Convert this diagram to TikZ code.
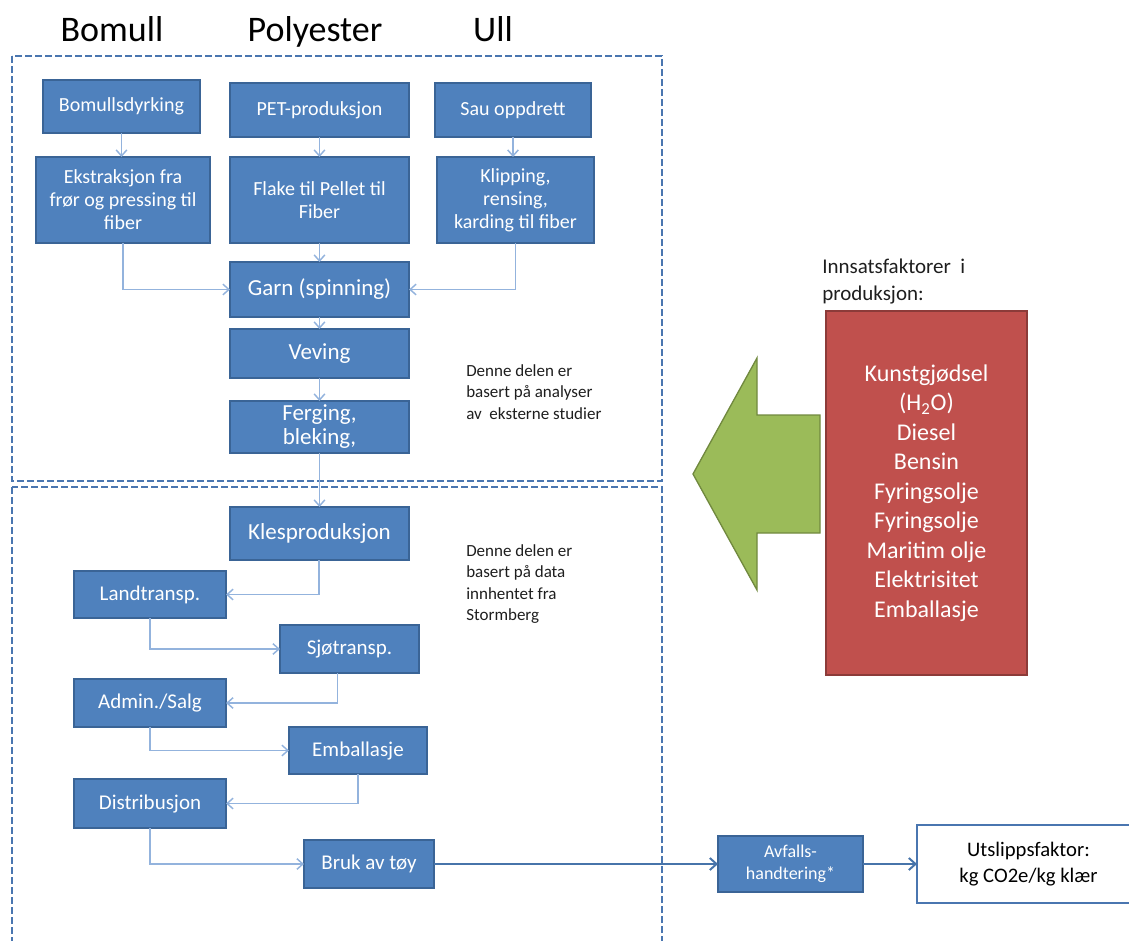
\documentclass[tikz,border=0pt]{standalone}
\usepackage{fontspec}
\setmainfont{Carlito}
\usetikzlibrary{arrows.meta}
\definecolor{boxfill}{HTML}{4F81BD}
\definecolor{boxline}{HTML}{3A6496}
\definecolor{connc}{HTML}{93B3DD}
\definecolor{dashc}{HTML}{4A76B0}
\definecolor{redfill}{HTML}{C0504D}
\definecolor{redline}{HTML}{8C3B39}
\definecolor{greenfill}{HTML}{9BBB59}
\definecolor{greenline}{HTML}{71893F}
\definecolor{txtc}{HTML}{1E1E1E}
\newcommand{\mybox}[7]{%
  \pgfmathsetmacro{\mbcx}{(#2+#4)/2}%
  \pgfmathsetmacro{\mbcy}{(#3+#5)/2}%
  \pgfmathsetmacro{\mbww}{(#4-#2)*0.75}%
  \pgfmathsetmacro{\mbhh}{(#5-#3)*0.75}%
  \node[#6, minimum width=\mbww pt, minimum height=\mbhh pt] (#1) at (\mbcx,\mbcy) {#7};}
\begin{document}
\begin{tikzpicture}[x=0.75pt,y=-0.75pt,
  bluebox/.style={draw=boxline, fill=boxfill, line width=1.1pt, text=white, align=center, inner sep=0pt, outer sep=0pt},
  fs20/.style={font=\fontsize{15}{17.25}\selectfont},
  fs21/.style={font=\fontsize{15.75}{18}\selectfont},
  fs23/.style={font=\fontsize{17.25}{18}\selectfont},
  fs18/.style={font=\fontsize{13.5}{16.5}\selectfont},
  conn/.style={draw=connc, line width=1.1pt, -{Straight Barb[length=4.5pt,width=8pt]}},
  darkconn/.style={draw=boxfill!90!black, line width=1.5pt, -{Straight Barb[length=5pt,width=9pt]}},
  dashbox/.style={draw=dashc, line width=1.6pt, dash pattern=on 5pt off 2.5pt},
  title/.style={font=\fontsize{27}{30}\selectfont, text=black, anchor=base},
  note/.style={font=\fontsize{12.75}{16.1}\selectfont, text=txtc, align=left, anchor=west, inner sep=0pt}
]
\useasboundingbox (0,0) rectangle (1129,940);
\clip (0,0) rectangle (1129,940);

% titles
\node[title] (tBomull) at (112,41) {Bomull};
\node[title] (tPoly) at (315,41) {Polyester};
\node[title] (tUll) at (493,41) {Ull};

% dashed regions
\draw[dashbox] (12,56) rectangle (662,481);
\draw[dashbox] (12,487) rectangle (662,980);

% top part boxes
\mybox{bom}{43}{80}{200}{133}{bluebox, fs20}{Bomullsdyrking}
\mybox{pet}{230}{83}{409}{137}{bluebox, fs20}{PET-produksjon}
\mybox{sau}{435}{83}{591}{137}{bluebox, fs20}{Sau oppdrett}
\mybox{ekst}{36}{157}{210}{243}{bluebox, fs20}{Ekstraksjon fra\\frør og pressing til\\fiber}
\mybox{flake}{230}{157}{409}{243}{bluebox, fs20}{Flake til Pellet til\\Fiber}
\mybox{klip}{437}{157}{594}{243}{bluebox, fs20}{Klipping,\\rensing,\\karding til fiber}
\mybox{garn}{230}{262}{409}{317}{bluebox, fs23}{Garn (spinning)}
\mybox{vev}{230}{329}{409}{378}{bluebox, fs23}{Veving}
\mybox{ferg}{230}{401}{409}{453}{bluebox, fs23}{Ferging,\\bleking,}

% bottom part boxes
\mybox{kles}{230}{507}{409}{560}{bluebox, fs23}{Klesproduksjon}
\mybox{land}{74}{571}{226}{618}{bluebox, fs21}{Landtransp.}
\mybox{sjo}{280}{625}{419}{673}{bluebox, fs21}{Sjøtransp.}
\mybox{admin}{74}{679}{226}{727}{bluebox, fs21}{Admin./Salg}
\mybox{emb}{289}{727}{427}{774}{bluebox, fs21}{Emballasje}
\mybox{dist}{74}{779}{226}{828}{bluebox, fs21}{Distribusjon}
\mybox{bruk}{304}{840}{434}{888}{bluebox, fs21}{Bruk av tøy}
\mybox{avf}{718}{836}{863}{892}{bluebox, fs18}{Avfalls-\\handtering*}
\mybox{utsl}{917}{825}{1140}{903}{draw=dashc, line width=2.2pt, fill=white, text=black, align=center, inner sep=0pt, outer sep=0pt, font=\fontsize{15.5}{19}\selectfont}{Utslippsfaktor:\\kg CO2e/kg klær}

% notes
\node[note] (note1) at (466,392) {Denne delen er\\basert på analyser\\av\ \ eksterne studier};
\node[note] (note2) at (466,584) {Denne delen er\\basert på data\\innhentet fra\\Stormberg};
\node[note, font=\fontsize{15.75}{20.25}\selectfont] (innsats) at (822,282) {Innsatsfaktorer\ \ i\\produksjon:};

% green arrow
\draw[fill=greenfill, draw=greenline, line width=1pt]
  (693,474) -- (757,358) -- (757,415) -- (820,415) -- (820,533) -- (757,533) -- (757,590) -- cycle;

% red box
\mybox{innbox}{826}{311}{1027}{675}{draw=redline, fill=redfill, line width=1pt, text=white, align=center, inner sep=0pt, font=\fontsize{18}{22.1}\selectfont}{Kunstgjødsel\\(H\textsubscript{2}O)\\Diesel\\Bensin\\Fyringsolje\\Fyringsolje\\Maritim olje\\Elektrisitet\\Emballasje}

% connectors top
\draw[conn] (bom.south) -- (bom.south |- ekst.north);
\draw[conn] (pet.south) -- (flake.north);
\draw[conn] (sau.south) -- (sau.south |- klip.north);
\draw[conn] (ekst.south) |- (garn.west);
\draw[conn] (klip.south) |- (garn.east);
\draw[conn] (flake.south) -- (garn.north);
\draw[conn] (garn.south) -- (vev.north);
\draw[conn] (vev.south) -- (ferg.north);
\draw[conn] (ferg.south) -- (kles.north);

% connectors bottom
\draw[conn] ([xshift=-0.5pt]kles.south) |- (land.east);
\draw[conn] (land.south) |- (sjo.west);
\draw[conn] ([xshift=-9pt]sjo.south) |- (admin.east);
\draw[conn] (admin.south) |- (emb.west);
\draw[conn] (emb.south) |- (dist.east);
\draw[conn] (dist.south) |- (bruk.west);
\draw[darkconn] (bruk.east) -- (avf.west);
\draw[darkconn] (avf.east) -- (avf.east -| utsl.west);
\end{tikzpicture}
\end{document}
